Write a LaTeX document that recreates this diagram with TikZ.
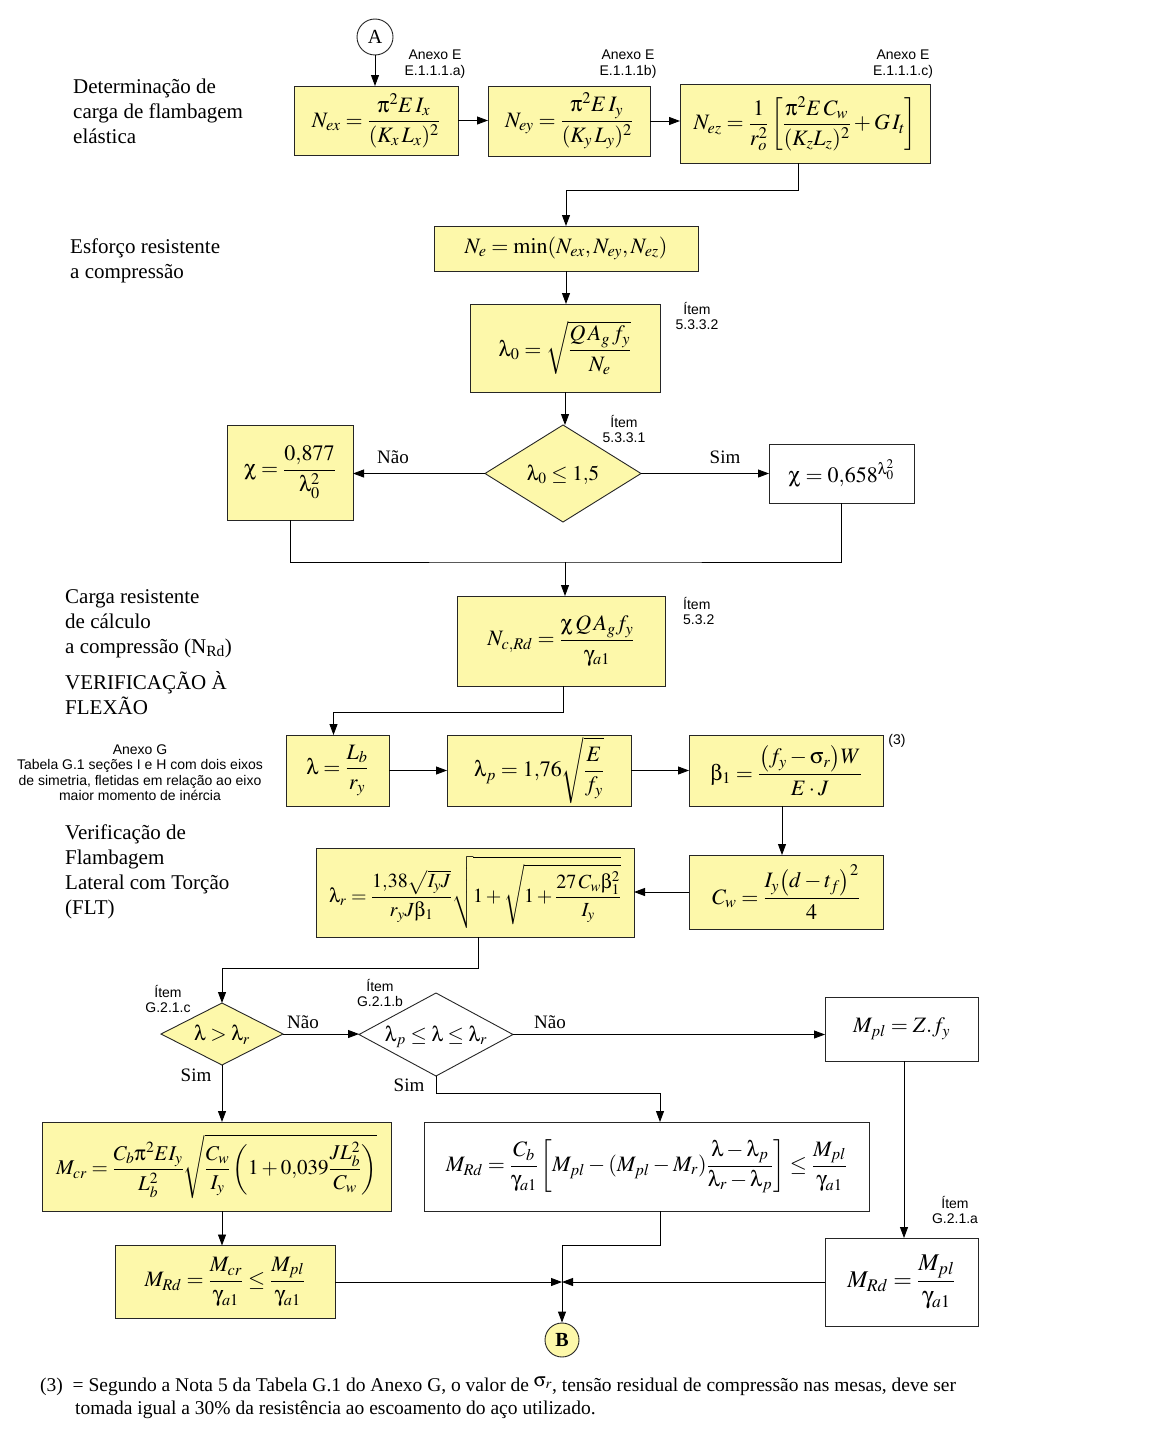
\documentclass[tikz,border=0pt]{standalone}
\usepackage{amsmath}
\usepackage{mathptmx}
\usepackage[Symbol]{upgreek}
\usepackage{fontspec}
\setmainfont{Liberation Serif}
\newfontfamily\annfont{Liberation Sans}
\usetikzlibrary{arrows.meta,shapes.geometric,calc}
\let\lambda\uplambda
\let\chi\upchi
\let\gamma\upgamma
\let\beta\upbeta
\let\pi\uppi
\let\sigma\upsigma
\definecolor{boxyellow}{RGB}{253,248,170}
\newcommand{\dtext}[1]{\makebox[0pt]{\raisebox{-0.33em}[0pt][0pt]{#1}}}
\tikzset{
  box/.style={draw=black!85, line width=0.9pt, rectangle, inner sep=0pt, outer sep=0pt, font=\fontsize{22}{26}\selectfont},
  ybox/.style={box, fill=boxyellow},
  wbox/.style={box, fill=white},
  dia/.style={diamond, draw=black!85, line width=0.9pt, inner sep=0pt, outer sep=0pt, font=\fontsize{21}{24}\selectfont},
  conn/.style={circle, draw=black!85, line width=0.9pt, inner sep=0pt, minimum size=36, font=\fontsize{20}{24}\selectfont},
  arr/.style={-{Triangle[length=11pt,width=8pt]}, line width=0.9pt},
  ln/.style={line width=0.9pt},
  lbl/.style={font=\fontsize{21}{25}\selectfont, align=left, inner sep=0pt, anchor=north west},
  ann/.style={font=\annfont\fontsize{14}{15.5}\selectfont, align=center, inner sep=0pt},
  yn/.style={font=\fontsize{19}{22}\selectfont, inner sep=0pt},
}
\begin{document}
\begin{tikzpicture}[x=1pt,y=-1pt]
\fill[white] (0,0) rectangle (1152,1437);
\useasboundingbox (0,0) rectangle (1152,1437);

% ---- left side labels
\node[lbl] (t1) at (73,79) {Determinação de\\carga de flambagem\\elástica};
\node[lbl] (t2) at (70,239) {Esforço resistente\\a compressão};
\node[lbl] (t3) at (65,589) {Carga resistente\\de cálculo\\a compressão (N\textsubscript{Rd})};
\node[lbl] (t4) at (65,671) {VERIFICAÇÃO À\\FLEXÃO};
\node[lbl] (t5) at (65,825) {Verificação de\\Flambagem\\Lateral com Torção\\(FLT)};

% ---- top row
\node[conn, fill=white] (A) at (375,37) {A};
\node[ybox, minimum width=164, minimum height=69] (nex) at (376,120.5)
  {$\displaystyle N_{ex}=\frac{\pi^2 E\,I_x}{(K_x\, L_x)^2}$};
\node[ybox, minimum width=162, minimum height=70] (ney) at (569,121)
  {$\displaystyle N_{ey}=\frac{\pi^2 E\,I_y}{(K_y\, L_y)^2}$};
\node[ybox, minimum width=250, minimum height=79] (nez) at (805,123.5)
  {$\displaystyle N_{ez}=\frac{1}{r_o^2}\left[\frac{\pi^2 E\,C_w}{(K_z L_z)^2}+G\,I_t\right]$};
\node[ann] (a1) at (435,64) {Anexo E\\E.1.1.1.a)};
\node[ann] (a2) at (628,64) {Anexo E\\E.1.1.1b)};
\node[ann] (a3) at (903,64) {Anexo E\\E.1.1.1.c)};

\node[ybox, minimum width=264, minimum height=45] (ne) at (566,248.5)
  {$N_e=\min(N_{ex},N_{ey},N_{ez})$};
\node[ybox, minimum width=190, minimum height=88] (l0) at (565,348)
  {$\displaystyle \lambda_0=\sqrt{\frac{Q\,A_g\,f_y}{N_e}}$};
\node[ann] (a4) at (697,316) {Ítem\\5.3.3.2};

\node[dia, fill=boxyellow, minimum width=156, minimum height=97] (d1) at (563,473.5)
  {\dtext{$\lambda_0\le 1{,}5$}};
\node[ann] (a5) at (624,429) {Ítem\\5.3.3.1};
\node[ybox, minimum width=126, minimum height=95] (c1) at (290,472.5)
  {$\displaystyle \chi=\frac{0{,}877}{\lambda_0^2}$};
\node[wbox, minimum width=145, minimum height=59] (c2) at (841.5,473.5)
  {$\chi=0{,}658^{\lambda_0^2}$};
\node[yn] (n1) at (393,457) {Não};
\node[yn] (s1) at (725,457) {Sim};

\node[ybox, minimum width=208, minimum height=90] (ncrd) at (561,641)
  {$\displaystyle N_{c,Rd}=\frac{\chi\,Q\,A_g f_y}{\gamma_{a1}}$};
\node[ann, align=left, anchor=west] (a6) at (683,611) {Ítem\\5.3.2};

% ---- flexure row
\node[ybox, minimum width=103, minimum height=71] (lam) at (337.5,770.5)
  {$\displaystyle \lambda=\frac{L_b}{r_y}$};
\node[ybox, minimum width=184, minimum height=71] (lamp) at (539,770.5)
  {$\displaystyle \lambda_p=1{,}76\sqrt{\frac{E}{f_y}}$};
\node[ybox, minimum width=194, minimum height=71] (beta) at (786,770.5)
  {$\displaystyle \beta_1=\frac{\bigl(f_y-\sigma_r\bigr)W}{E\cdot J}$};
\node[ann] (a7) at (897,741) {(3)};
\node[ann] (a8) at (140,772.5) {Anexo G\\Tabela G.1 seções I e H com dois eixos\\de simetria, fletidas em relação ao eixo\\maior momento de inércia};

\node[ybox, minimum width=194, minimum height=74] (cw) at (786,892)
  {$\displaystyle C_w=\frac{I_y\bigl(d-t_f\bigr)^2}{4}$};
\node[ybox, minimum width=318, minimum height=89, font=\fontsize{20}{24}\selectfont] (lamr) at (475,892.5)
  {$\displaystyle \lambda_r=\frac{1{,}38\sqrt{I_y J}}{r_y J\beta_1}\sqrt{1+\sqrt{1+\frac{27\,C_w\beta_1^2}{I_y}}}$};

% ---- decisions
\node[dia, fill=boxyellow, minimum width=122, minimum height=62] (d2) at (222,1034)
  {\dtext{$\lambda>\lambda_r$}};
\node[ann] (a9) at (168,999) {Ítem\\G.2.1.c};
\node[dia, fill=white, minimum width=154, minimum height=83] (d3) at (436,1034.5)
  {\dtext{$\lambda_p\le\lambda\le\lambda_r$}};
\node[ann] (a10) at (380,993) {Ítem\\G.2.1.b};
\node[wbox, minimum width=153, minimum height=64] (mpl) at (901.5,1029)
  {$M_{pl}=Z.f_y$};
\node[yn] (n2) at (303,1022) {Não};
\node[yn] (n3) at (550,1022) {Não};
\node[yn] (s2) at (196,1075) {Sim};
\node[yn] (s3) at (409,1085) {Sim};

\node[ybox, minimum width=349, minimum height=89, font=\fontsize{21}{24}\selectfont] (mcr) at (216.5,1166.5)
  {$\displaystyle M_{cr}=\frac{C_b\pi^2 E I_y}{L_b^2}\sqrt{\frac{C_w}{I_y}\left(1+0{,}039\frac{J L_b^2}{C_w}\right)}$};
\node[wbox, minimum width=445, minimum height=89] (mrd2) at (646.5,1166.5)
  {$\displaystyle M_{Rd}=\frac{C_b}{\gamma_{a1}}\left[M_{pl}-(M_{pl}-M_r)\frac{\lambda-\lambda_p}{\lambda_r-\lambda_p}\right]\le\frac{M_{pl}}{\gamma_{a1}}$};
\node[ybox, minimum width=220, minimum height=73] (mrd1) at (225,1282)
  {$\displaystyle M_{Rd}=\frac{M_{cr}}{\gamma_{a1}}\le\frac{M_{pl}}{\gamma_{a1}}$};
\node[wbox, minimum width=153, minimum height=88, font=\fontsize{24}{28}\selectfont] (mrd3) at (901.5,1282)
  {$\displaystyle M_{Rd}=\frac{M_{pl}}{\gamma_{a1}}$};
\node[ann] (a11) at (955,1210) {Ítem\\G.2.1.a};
\node[conn, fill=boxyellow, minimum size=34] (B) at (562,1340) {\textbf{B}};

% ---- footnote
\node[font=\fontsize{19.5}{23}\selectfont, align=left, inner sep=0pt, anchor=north west] (fn) at (40,1376)
  {(3)\ \ = Segundo a Nota 5 da Tabela G.1 do Anexo G, o valor de \raisebox{5pt}{$\sigma_r$}, tensão residual de compressão nas mesas, deve ser\\
   \hspace*{35pt}tomada igual a 30\% da resistência ao escoamento do aço utilizado.};

% ---- connectors
\draw[arr] (A) -- (A |- nex.north);
\draw[arr] (nex.east) -- (nex.east -| ney.west);
\draw[arr] (ney.east) -- (ney.east -| nez.west);
\draw[arr] ([xshift=-7pt]nez.south) -- ++(0,27) -| (ne.north);
\draw[arr] (ne.south) -- (ne.south |- l0.north);
\draw[arr] (l0.south) -- (l0.south |- d1.north);
\draw[arr] (d1.west) -- (d1.west -| c1.east);
\draw[arr] (d1.east) -- (d1.east -| c2.west);
\coordinate (m1) at (565,562);
\draw[ln] (c1.south) |- (m1) -| (c2.south);
\draw[arr] (m1) -- (m1 |- ncrd.north);
\draw[arr] ([xshift=2pt]ncrd.south) -- ++(0,26) -| ([xshift=-4pt]lam.north);
\draw[arr] (lam.east) -- (lam.east -| lamp.west);
\draw[arr] (lamp.east) -- (lamp.east -| beta.west);
\draw[arr] ([xshift=-4pt]beta.south) -- ([xshift=-4pt]cw.north);
\draw[arr] (cw.west) -- (cw.west -| lamr.east);
\draw[arr] ([xshift=3pt]lamr.south) -- ++(0,31) -| (d2.north);
\draw[arr] (d2.east) -- (d2.east -| d3.west);
\draw[arr] (d3.east) -- (d3.east -| mpl.west);
\draw[arr] (d2.south) -- (d2.south |- mcr.north);
\coordinate (m2) at (660,1093);
\draw[arr] (d3.south) |- (m2) -- (m2 |- mrd2.north);
\draw[arr] (d2.south |- mcr.south) -- (d2.south |- mrd1.north);
\coordinate (m3) at (660,1245);
\draw[arr] (m3 |- mrd2.south) -- (m3) -| (B.north);
\draw[arr] (mrd1.east) -- (mrd1.east -| B);
\draw[arr] (mrd3.west) -- (mrd3.west -| B);
\draw[arr] ([xshift=2.5pt]mpl.south) -- ([xshift=2.5pt]mrd3.north);
\end{tikzpicture}
\end{document}
